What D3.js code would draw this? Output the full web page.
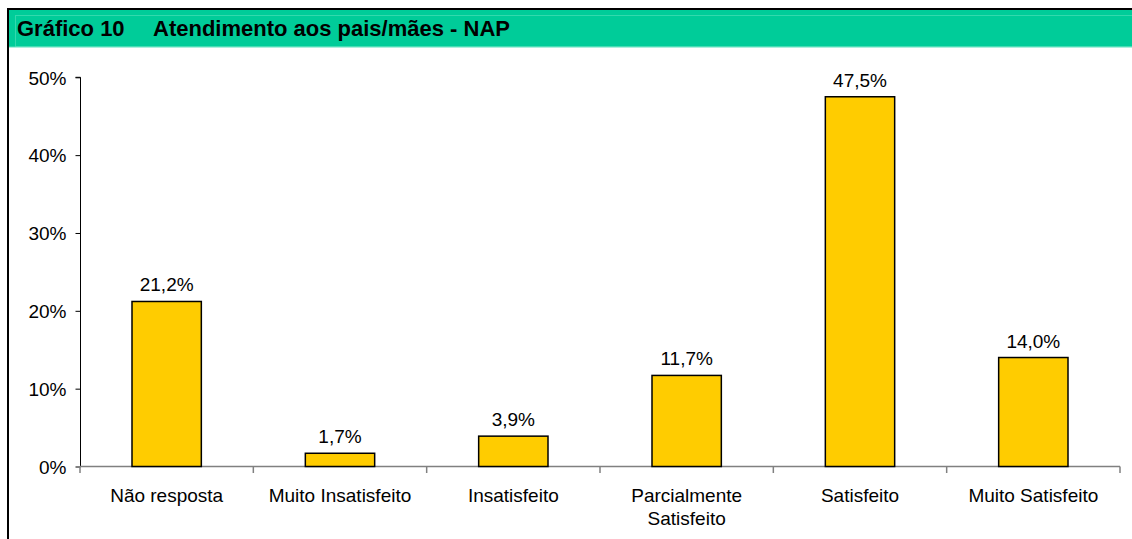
<!DOCTYPE html>
<html>
<head>
<meta charset="utf-8">
<script src="https://cdn.jsdelivr.net/npm/d3@7"></script>
<style>
  body { margin: 0; background: #fff; }
  svg { display: block; font-family: "Liberation Sans", Arial, sans-serif; }
</style>
</head>
<body>
<div id="chart"></div>
<script>
// data
var categories = [["Não resposta"], ["Muito Insatisfeito"], ["Insatisfeito"],
                  ["Parcialmente", "Satisfeito"], ["Satisfeito"], ["Muito Satisfeito"]];
var values = [21.2, 1.7, 3.9, 11.7, 47.5, 14.0];
var yTicks = [0, 10, 20, 30, 40, 50];
var titleNum = "Gráfico 10";
var titleText = "Atendimento aos pais/mães - NAP";

var w = 1132, h = 539;
var svg = d3.select("#chart").append("svg")
    .attr("width", w).attr("height", h);

// frame + header band
svg.append("rect").attr("x", 8).attr("y", 10).attr("width", w - 8).attr("height", 37)
    .attr("fill", "#00CC99");
svg.append("rect").attr("x", 15.5).attr("y", 15.5).attr("width", w).attr("height", 31)
    .attr("fill", "none").attr("stroke", "#33d9ad").attr("stroke-width", 1);
svg.append("line").attr("x1", 8).attr("x2", w).attr("y1", 47).attr("y2", 47)
    .attr("stroke", "#5fe0bd").attr("stroke-width", 1);
svg.append("rect").attr("x", 7).attr("y", 8).attr("width", w).attr("height", 2).attr("fill", "#000");
svg.append("rect").attr("x", 7).attr("y", 8).attr("width", 2).attr("height", h).attr("fill", "#000");

svg.append("text").attr("x", 17).attr("y", 36)
    .attr("font-weight", "bold").attr("font-size", 22).text(titleNum);
svg.append("text").attr("x", 153).attr("y", 36)
    .attr("font-weight", "bold").attr("font-size", 22).text(titleText);

// scales
var x = d3.scaleBand().domain(d3.range(categories.length)).range([80, 1120]).paddingInner(0.6).paddingOuter(0.3);
var xTicks = d3.scaleBand().domain(d3.range(categories.length)).range([80, 1120]);
var y = d3.scaleLinear().domain([0, 50]).range([466.5, 77.3]);

// y axis
var yAxis = svg.append("g").attr("transform", "translate(80.5,0)")
    .call(d3.axisLeft(y).tickValues(yTicks).tickSize(5).tickFormat(function(d) { return d + "%"; }));
yAxis.select(".domain").attr("stroke", "#000").attr("d", "M-5," + y(50) + "H0V" + y(0));
yAxis.selectAll(".tick line").attr("stroke", "#000");
yAxis.selectAll(".tick text").attr("font-size", 19).attr("font-family", "Liberation Sans, Arial, sans-serif")
    .attr("fill", "#000").attr("x", -14).attr("dy", "0.36em");

// x axis line + ticks
var xg = svg.append("g");
xg.append("line").attr("x1", 80).attr("x2", 1120).attr("y1", 466.5).attr("y2", 466.5)
    .attr("stroke", "#808080").attr("stroke-width", 1.5);
xg.selectAll("line.tk").data(d3.range(categories.length + 1)).enter().append("line")
    .attr("class", "tk")
    .attr("x1", function(d) { return 80 + d * xTicks.bandwidth(); })
    .attr("x2", function(d) { return 80 + d * xTicks.bandwidth(); })
    .attr("y1", 466.5).attr("y2", 473).attr("stroke", "#808080").attr("stroke-width", 1.5);

// bars
svg.append("g").selectAll("rect").data(values).enter().append("rect")
    .attr("x", function(d, i) { return x(i); })
    .attr("y", function(d) { return y(d); })
    .attr("width", x.bandwidth())
    .attr("height", function(d) { return y(0) - y(d); })
    .attr("fill", "#FFCC00").attr("stroke", "#000").attr("stroke-width", 1.5);

// value labels
svg.append("g").selectAll("text").data(values).enter().append("text")
    .attr("x", function(d, i) { return x(i) + x.bandwidth() / 2; })
    .attr("y", function(d) { return y(d) - 10; })
    .attr("text-anchor", "middle").attr("font-size", 19)
    .text(function(d) { return d.toFixed(1).replace(".", ",") + "%"; });

// category labels
var cl = svg.append("g").selectAll("text").data(categories).enter().append("text")
    .attr("x", function(d, i) { return xTicks(i) + xTicks.bandwidth() / 2; })
    .attr("y", 502).attr("text-anchor", "middle").attr("font-size", 19);
cl.selectAll("tspan").data(function(d) { return d; }).enter().append("tspan")
    .attr("x", function() { return d3.select(this.parentNode).attr("x"); })
    .attr("dy", function(d, i) { return i === 0 ? 0 : 23; })
    .text(function(d) { return d; });
</script>
</body>
</html>
